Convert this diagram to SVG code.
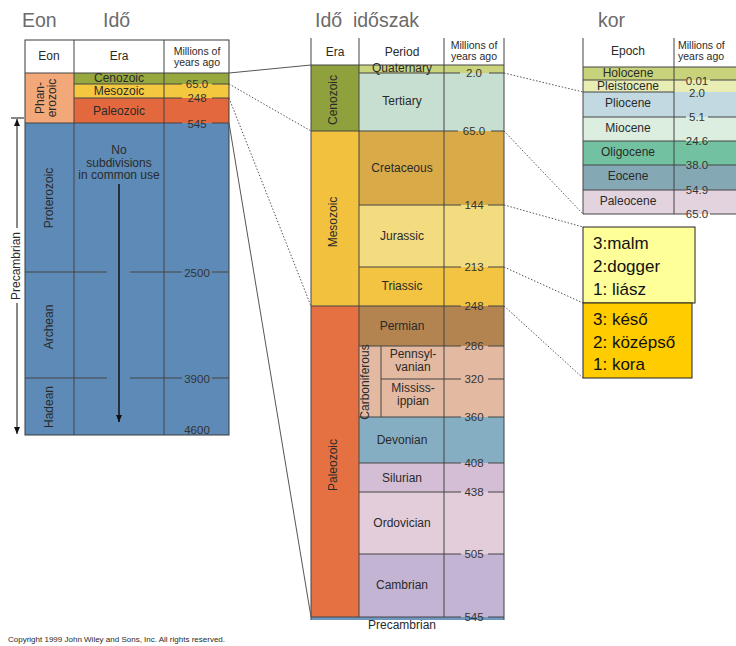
<svg xmlns="http://www.w3.org/2000/svg" width="736" height="646" viewBox="0 0 736 646">
<defs>
<style>
text{font-family:"Liberation Sans",Arial,sans-serif;fill:#2a2a2a}
.t{font-size:12px;text-anchor:middle}
.v{font-size:11.5px;text-anchor:middle;fill:#333}
.h{font-size:10.5px;text-anchor:middle}
.big{font-size:19.5px;fill:#6b6b6b}
.call{font-size:17px;fill:#111}
.b{stroke:#3a3a3a;stroke-width:1;fill:none}
.g{stroke:#444;stroke-width:1}
.dot{stroke:#555;stroke-width:1;stroke-dasharray:1.5 1.8;fill:none}
.sol{stroke:#555;stroke-width:1;fill:none}
</style>
<marker id="ah" markerWidth="8" markerHeight="8" refX="7" refY="4" orient="auto" markerUnits="userSpaceOnUse" viewBox="0 0 8 8">
<path d="M0,1 L7,4 L0,7 Z" fill="#111"/>
</marker>
</defs>
<rect width="736" height="646" fill="#fff"/>

<g id="titles">
<text class="big" x="22" y="27">Eon</text>
<text class="big" x="103" y="27">Idő</text>
<text class="big" x="315" y="27" xml:space="preserve">Idő  időszak</text>
<text class="big" x="598" y="27">kor</text>
</g>

<g id="left-table">
<rect x="25" y="40" width="204" height="33" fill="#fff"/>
<rect x="25" y="73" width="49" height="50" fill="#f2a878"/>
<rect x="74" y="73" width="155" height="11" fill="#97a83e"/>
<rect x="74" y="84" width="155" height="14" fill="#f3c83f"/>
<rect x="74" y="98" width="155" height="25" fill="#e4683e"/>
<rect x="25" y="123" width="204" height="312" fill="#5d8ab6"/>
<rect x="25" y="40" width="204" height="395" class="b"/>
<line x1="74" y1="40" x2="74" y2="435" class="g"/>
<line x1="164" y1="40" x2="164" y2="435" class="g"/>
<line x1="25" y1="73" x2="229" y2="73" class="g"/>
<line x1="74" y1="84" x2="182" y2="84" class="g"/><line x1="212" y1="84" x2="229" y2="84" class="g"/>
<line x1="74" y1="98" x2="182" y2="98" class="g"/><line x1="212" y1="98" x2="229" y2="98" class="g"/>
<line x1="25" y1="123" x2="182" y2="123" class="g"/><line x1="212" y1="123" x2="229" y2="123" class="g"/>
<line x1="25" y1="272" x2="107" y2="272" class="g"/><line x1="130" y1="272" x2="182" y2="272" class="g"/><line x1="212" y1="272" x2="229" y2="272" class="g"/>
<line x1="25" y1="378" x2="107" y2="378" class="g"/><line x1="130" y1="378" x2="182" y2="378" class="g"/><line x1="212" y1="378" x2="229" y2="378" class="g"/>
<text class="t" x="49" y="60">Eon</text>
<text class="t" x="119" y="60">Era</text>
<text class="h" x="197" y="55">Millions of</text>
<text class="h" x="197" y="66">years ago</text>
<text class="t" x="119" y="82" font-size="11">Cenozoic</text>
<text class="t" x="119" y="95" font-size="11.5">Mesozoic</text>
<text class="t" x="119" y="115">Paleozoic</text>
<text class="v" x="197" y="88">65.0</text>
<text class="v" x="197" y="102">248</text>
<text class="v" x="197" y="128">545</text>
<text class="v" x="197" y="277">2500</text>
<text class="v" x="197" y="383">3900</text>
<text class="v" x="197" y="434">4600</text>
<text class="t" transform="translate(44,98) rotate(-90)">Phan-</text>
<text class="t" transform="translate(56,98) rotate(-90)">erozoic</text>
<text class="t" transform="translate(53,198) rotate(-90)">Proterozoic</text>
<text class="t" transform="translate(53,327) rotate(-90)">Archean</text>
<text class="t" transform="translate(53,407) rotate(-90)">Hadean</text>
<text class="t" x="119" y="154" font-size="10.5">No</text>
<text class="t" x="119" y="166.5" font-size="10.5">subdivisions</text>
<text class="t" x="119" y="179" font-size="10.5">in common use</text>
<line x1="119" y1="184" x2="119" y2="422" stroke="#111" stroke-width="1.5" marker-end="url(#ah)"/>
</g>

<g id="precambrian-bracket">
<line x1="11" y1="118" x2="24" y2="118" stroke="#111" stroke-width="1"/>
<line x1="17" y1="228" x2="17" y2="119" stroke="#111" stroke-width="1" marker-end="url(#ah)"/>
<line x1="17" y1="303" x2="17" y2="434" stroke="#111" stroke-width="1" marker-end="url(#ah)"/>
<text class="t" transform="translate(20,266) rotate(-90)">Precambrian</text>
</g>

<g id="middle-table">
<rect x="311" y="38" width="193" height="27" fill="#fff"/>
<rect x="311" y="65" width="48" height="66" fill="#8fa13c"/>
<rect x="311" y="131" width="48" height="175" fill="#f2c23f"/>
<rect x="311" y="306" width="48" height="311" fill="#e57142"/>
<rect x="359" y="65" width="145" height="8" fill="#cad47d"/>
<rect x="359" y="73" width="145" height="58" fill="#c6dfd0"/>
<rect x="359" y="131" width="145" height="74" fill="#d9aa48"/>
<rect x="359" y="205" width="145" height="62" fill="#f3dc80"/>
<rect x="359" y="267" width="145" height="39" fill="#f2c442"/>
<rect x="359" y="306" width="145" height="40" fill="#b3844f"/>
<rect x="359" y="346" width="145" height="71" fill="#e3b9a2"/>
<rect x="359" y="417" width="145" height="46" fill="#86aec3"/>
<rect x="359" y="463" width="145" height="29" fill="#d4bed6"/>
<rect x="359" y="492" width="145" height="62" fill="#e4cdda"/>
<rect x="359" y="554" width="145" height="63" fill="#c4b4d4"/>
<rect x="311" y="617" width="193" height="3" fill="#6f98c0"/>
<line x1="311" y1="38" x2="311" y2="620" class="g"/>
<line x1="359" y1="38" x2="359" y2="617" class="g"/>
<line x1="444" y1="38" x2="444" y2="617" class="g"/>
<line x1="504" y1="38" x2="504" y2="620" class="g"/>
<line x1="381" y1="346" x2="381" y2="417" class="g"/>
<line x1="311" y1="65" x2="504" y2="65" class="g"/>
<line x1="359" y1="73" x2="460" y2="73" class="g"/><line x1="489" y1="73" x2="504" y2="73" class="g"/>
<line x1="311" y1="131" x2="458" y2="131" class="g"/><line x1="491" y1="131" x2="504" y2="131" class="g"/>
<line x1="359" y1="205" x2="461" y2="205" class="g"/><line x1="488" y1="205" x2="504" y2="205" class="g"/>
<line x1="359" y1="267" x2="461" y2="267" class="g"/><line x1="488" y1="267" x2="504" y2="267" class="g"/>
<line x1="311" y1="306" x2="461" y2="306" class="g"/><line x1="488" y1="306" x2="504" y2="306" class="g"/>
<line x1="359" y1="346" x2="461" y2="346" class="g"/><line x1="488" y1="346" x2="504" y2="346" class="g"/>
<line x1="381" y1="379" x2="461" y2="379" class="g"/><line x1="488" y1="379" x2="504" y2="379" class="g"/>
<line x1="359" y1="417" x2="461" y2="417" class="g"/><line x1="488" y1="417" x2="504" y2="417" class="g"/>
<line x1="359" y1="463" x2="461" y2="463" class="g"/><line x1="488" y1="463" x2="504" y2="463" class="g"/>
<line x1="359" y1="492" x2="461" y2="492" class="g"/><line x1="488" y1="492" x2="504" y2="492" class="g"/>
<line x1="359" y1="554" x2="461" y2="554" class="g"/><line x1="488" y1="554" x2="504" y2="554" class="g"/>
<line x1="311" y1="617" x2="461" y2="617" class="g"/><line x1="488" y1="617" x2="504" y2="617" class="g"/>
<text class="t" x="335" y="56">Era</text>
<text class="t" x="402" y="56">Period</text>
<text class="h" x="474" y="49">Millions of</text>
<text class="h" x="474" y="60">years ago</text>
<text class="t" x="402" y="72" font-size="11">Quaternary</text>
<text class="t" x="402" y="105" font-size="12.5">Tertiary</text>
<text class="t" x="402" y="172" font-size="12.5">Cretaceous</text>
<text class="t" x="402" y="240" font-size="12.5">Jurassic</text>
<text class="t" x="402" y="290" font-size="12.5">Triassic</text>
<text class="t" x="402" y="330" font-size="12.5">Permian</text>
<text class="t" x="413" y="358" font-size="10">Pennsyl-</text>
<text class="t" x="413" y="371" font-size="10">vanian</text>
<text class="t" x="413" y="392" font-size="10">Mississ-</text>
<text class="t" x="413" y="405" font-size="10">ippian</text>
<text class="t" x="402" y="444" font-size="12.5">Devonian</text>
<text class="t" x="402" y="482" font-size="12.5">Silurian</text>
<text class="t" x="402" y="527" font-size="12.5">Ordovician</text>
<text class="t" x="402" y="589" font-size="12.5">Cambrian</text>
<text class="t" x="402" y="629">Precambrian</text>
<text class="t" transform="translate(337,100) rotate(-90)">Cenozoic</text>
<text class="t" transform="translate(337,222) rotate(-90)">Mesozoic</text>
<text class="t" transform="translate(337,465) rotate(-90)">Paleozoic</text>
<text class="t" font-size="11" transform="translate(369,382) rotate(-90)">Carboniferous</text>
<text class="v" x="474" y="77">2.0</text>
<text class="v" x="474" y="135">65.0</text>
<text class="v" x="474" y="209">144</text>
<text class="v" x="474" y="271">213</text>
<text class="v" x="474" y="310">248</text>
<text class="v" x="474" y="350">286</text>
<text class="v" x="474" y="383">320</text>
<text class="v" x="474" y="421">360</text>
<text class="v" x="474" y="467">408</text>
<text class="v" x="474" y="496">438</text>
<text class="v" x="474" y="558">505</text>
<text class="v" x="474" y="621">545</text>
</g>

<g id="right-table">
<rect x="583" y="38" width="153" height="29" fill="#fff"/>
<rect x="583" y="67" width="153" height="13" fill="#c8d27a"/>
<rect x="583" y="80" width="153" height="12" fill="#e9edb4"/>
<rect x="583" y="92" width="153" height="25" fill="#c2d9e2"/>
<rect x="583" y="117" width="153" height="24" fill="#dbeedf"/>
<rect x="583" y="141" width="153" height="24" fill="#72c2a2"/>
<rect x="583" y="165" width="153" height="25" fill="#84a9b4"/>
<rect x="583" y="190" width="153" height="24" fill="#e3d3de"/>
<line x1="583" y1="38" x2="583" y2="214" class="g"/>
<line x1="674" y1="38" x2="674" y2="214" class="g"/>
<line x1="583" y1="67" x2="736" y2="67" class="g"/>
<line x1="583" y1="80" x2="686" y2="80" class="g"/><line x1="710" y1="80" x2="736" y2="80" class="g"/>
<line x1="583" y1="92" x2="674" y2="92" class="g"/>
<line x1="583" y1="117" x2="686" y2="117" class="g"/><line x1="708" y1="117" x2="736" y2="117" class="g"/>
<line x1="583" y1="141" x2="686" y2="141" class="g"/><line x1="708" y1="141" x2="736" y2="141" class="g"/>
<line x1="583" y1="165" x2="686" y2="165" class="g"/><line x1="708" y1="165" x2="736" y2="165" class="g"/>
<line x1="583" y1="190" x2="686" y2="190" class="g"/><line x1="708" y1="190" x2="736" y2="190" class="g"/>
<line x1="583" y1="214" x2="686" y2="214" class="g"/><line x1="710" y1="214" x2="736" y2="214" class="g"/>
<text class="t" x="628" y="55">Epoch</text>
<text class="h" x="678" y="49" style="text-anchor:start">Millions of</text>
<text class="h" x="678" y="60" style="text-anchor:start">years ago</text>
<text class="t" x="628" y="77" font-size="11">Holocene</text>
<text class="t" x="628" y="90" font-size="11">Pleistocene</text>
<text class="t" x="628" y="107">Pliocene</text>
<text class="t" x="628" y="132">Miocene</text>
<text class="t" x="628" y="156">Oligocene</text>
<text class="t" x="628" y="180">Eocene</text>
<text class="t" x="628" y="205">Paleocene</text>
<text class="v" x="697" y="85" font-size="9.5">0.01</text>
<text class="v" x="697" y="97" font-size="10">2.0</text>
<text class="v" x="697" y="121">5.1</text>
<text class="v" x="697" y="145">24.6</text>
<text class="v" x="697" y="169">38.0</text>
<text class="v" x="697" y="194">54.9</text>
<text class="v" x="697" y="218">65.0</text>
</g>

<g id="callout-jurassic">
<rect x="583" y="227" width="112" height="76" fill="#ffff99" stroke="#222" stroke-width="1"/>
<text class="call" x="593" y="249">3:malm</text>
<text class="call" x="593" y="272">2:dogger</text>
<text class="call" x="593" y="295">1: liász</text>
</g>

<g id="callout-epochs">
<rect x="583" y="303" width="109" height="75" fill="#ffcc00" stroke="#222" stroke-width="1"/>
<text class="call" x="593" y="325">3: késő</text>
<text class="call" x="593" y="348">2: középső</text>
<text class="call" x="593" y="370">1: kora</text>
</g>

<g id="connectors">
<line x1="229" y1="73" x2="311" y2="65" class="sol"/>
<line x1="229" y1="84" x2="311" y2="131" class="dot"/>
<line x1="229" y1="98" x2="311" y2="306" class="dot"/>
<line x1="229" y1="123" x2="311" y2="617" class="sol"/>
<line x1="504" y1="73" x2="583" y2="92" class="dot"/>
<line x1="504" y1="131" x2="583" y2="214" class="dot"/>
<line x1="504" y1="205" x2="583" y2="227" class="dot"/>
<line x1="504" y1="267" x2="583" y2="303" class="dot"/>
<line x1="504" y1="306" x2="583" y2="378" class="dot"/>
</g>

<text x="8" y="642" font-size="8" fill="#333">Copyright 1999 John Wiley and Sons, Inc. All rights reserved.</text>
</svg>
